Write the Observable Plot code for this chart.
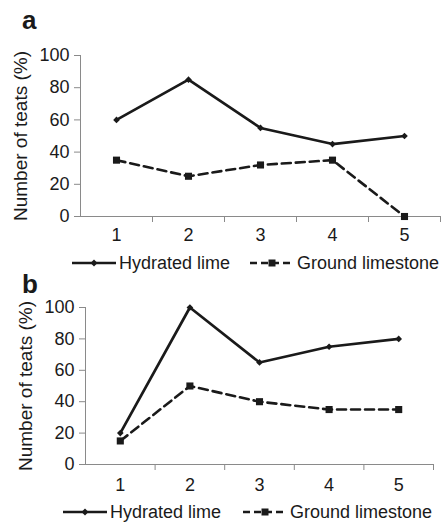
<!DOCTYPE html>
<html>
<head>
<meta charset="utf-8">
<script src="https://cdn.jsdelivr.net/npm/d3@7"></script>
<script src="https://cdn.jsdelivr.net/npm/@observablehq/plot@0.6"></script>
<style>
  html, body { margin: 0; padding: 0; background: #fff; }
  #root { position: relative; width: 444px; height: 522px; overflow: hidden; font-family: "Liberation Sans", Arial, sans-serif; color: #1a1a1a; }
  .panel { position: absolute; left: 0; }
  .letter { position: absolute; font-weight: bold; font-size: 26px; line-height: 26px; }
  .legend { position: absolute; font-size: 18px; line-height: 18px; white-space: nowrap; }
  .item { position: absolute; top: 0; display: flex; align-items: center; gap: 3px; }
</style>
</head>
<body>
<div id="root"></div>
<script>
// ---- data ----
const days = [1, 2, 3, 4, 5];
const seriesNames = ["Hydrated lime", "Ground limestone"];
const limeA = [60, 85, 55, 45, 50];
const limestoneA = [35, 25, 32, 35, 0];
const limeB = [20, 100, 65, 75, 80];
const limestoneB = [15, 50, 40, 35, 35];
const yTicks = [0, 20, 40, 60, 80, 100];
const yLabel = "Number of teats (%)";
const panelLetters = ["a", "b"];

const INK = "#1a1a1a";
const AXIS = "#8a8a8a";
const FONT = "'Liberation Sans', Arial, sans-serif";

function panel(lime, limestone, cfg) {
  const rows = days.map((d, i) => ({day: d, lime: lime[i], limestone: limestone[i]}));
  const boundaries = days.map(d => d + 0.5);
  return Plot.plot({
    width: 444,
    height: cfg.height,
    marginTop: cfg.mt,
    marginBottom: cfg.mb,
    marginLeft: cfg.ml,
    marginRight: cfg.mr,
    style: {fontFamily: FONT, fontSize: "18px", color: INK, background: "transparent", overflow: "visible"},
    x: {domain: [0.5, 5.5]},
    y: {domain: [0, 100]},
    marks: [
      Plot.ruleY([0], {stroke: AXIS, strokeWidth: 1}),
      Plot.ruleX([0.5], {stroke: AXIS, strokeWidth: 1}),
      Plot.axisY({ticks: yTicks, tickSize: 6, tickPadding: 5, stroke: AXIS, fill: INK, label: null, fontSize: 18}),
      Plot.axisY({ticks: [], label: yLabel, labelArrow: "none", labelAnchor: "center", labelOffset: cfg.labelOffset, fontSize: 19, fill: INK}),
      Plot.axisX({ticks: boundaries, tickFormat: () => "", tickSize: 6, stroke: AXIS, label: null}),
      Plot.axisX({ticks: days, tickFormat: d => String(d), tickSize: 0, tickPadding: cfg.xPad, fill: INK, label: null, fontSize: 18}),
      Plot.line(rows, {x: "day", y: "limestone", stroke: INK, strokeWidth: 2.6, strokeDasharray: "9,5"}),
      Plot.dot(rows, {x: "day", y: "limestone", symbol: "square", r: 4, fill: INK, stroke: "none"}),
      Plot.line(rows, {x: "day", y: "lime", stroke: INK, strokeWidth: 2.7}),
      Plot.dot(rows, {x: "day", y: "lime", symbol: "diamond2", r: 3, fill: INK, stroke: "none"})
    ]
  });
}

function legend(top, left1, left2) {
  const div = document.createElement("div");
  div.className = "legend";
  div.style.top = top + "px";
  div.style.left = "0px";
  const mk = (left, name, dashed) => {
    const item = document.createElement("div");
    item.className = "item";
    item.style.left = left + "px";
    const ns = "http://www.w3.org/2000/svg";
    const svg = document.createElementNS(ns, "svg");
    svg.setAttribute("width", 44);
    svg.setAttribute("height", 12);
    const line = document.createElementNS(ns, "line");
    line.setAttribute("x1", 0); line.setAttribute("x2", 44);
    line.setAttribute("y1", 6); line.setAttribute("y2", 6);
    line.setAttribute("stroke", INK);
    line.setAttribute("stroke-width", 2.5);
    if (dashed) line.setAttribute("stroke-dasharray", "7,4");
    svg.appendChild(line);
    if (dashed) {
      const r = document.createElementNS(ns, "rect");
      r.setAttribute("x", 18.5); r.setAttribute("y", 2.5); r.setAttribute("width", 7); r.setAttribute("height", 7);
      r.setAttribute("fill", INK);
      svg.appendChild(r);
    } else {
      const p = document.createElementNS(ns, "polygon");
      p.setAttribute("points", "22,2.5 25.5,6 22,9.5 18.5,6");
      p.setAttribute("fill", INK);
      svg.appendChild(p);
    }
    item.appendChild(svg);
    const span = document.createElement("span");
    span.textContent = name;
    item.appendChild(span);
    div.appendChild(item);
  };
  mk(left1, seriesNames[0], false);
  mk(left2, seriesNames[1], true);
  return div;
}

const root = document.getElementById("root");

// panel a
const pa = document.createElement("div");
pa.className = "panel"; pa.style.top = "0px";
pa.appendChild(panel(limeA, limestoneA, {height: 250, mt: 55, mb: 34, ml: 80, mr: 4, labelOffset: 67, xPad: 12}));
root.appendChild(pa);

// panel b
const pb = document.createElement("div");
pb.className = "panel"; pb.style.top = "260px";
pb.appendChild(panel(limeB, limestoneB, {height: 240, mt: 47, mb: 36, ml: 85, mr: 11, labelOffset: 67, xPad: 14}));
root.appendChild(pb);

// letters
const la = document.createElement("div");
la.className = "letter"; la.style.left = "22px"; la.style.top = "7px"; la.textContent = panelLetters[0];
root.appendChild(la);
const lb = document.createElement("div");
lb.className = "letter"; lb.style.left = "22px"; lb.style.top = "271px"; lb.textContent = panelLetters[1];
root.appendChild(lb);

// legends
root.appendChild(legend(254, 72, 250));
root.appendChild(legend(503, 63, 243));
</script>
</body>
</html>
